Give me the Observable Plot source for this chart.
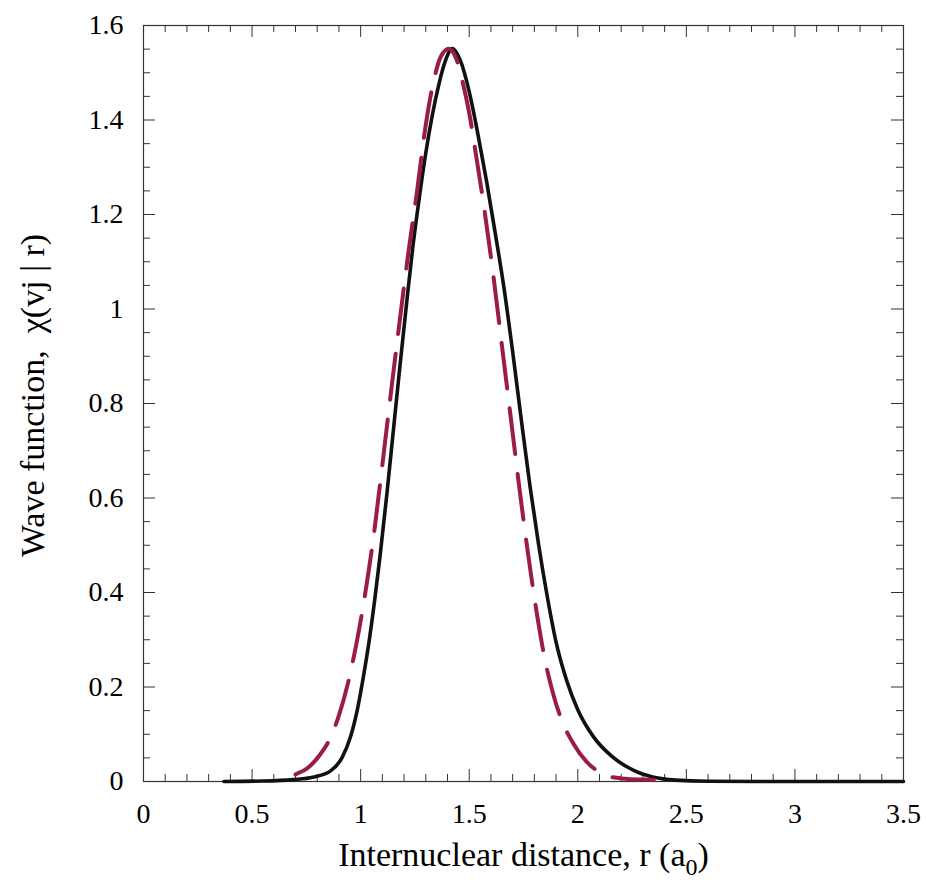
<!DOCTYPE html>
<html><head><meta charset="utf-8">
<script src="https://cdn.jsdelivr.net/npm/d3@7"></script>
<script src="https://cdn.jsdelivr.net/npm/@observablehq/plot@0.6"></script>
<style>body{margin:0;background:#fff;}</style>
</head><body><div id="chart"></div>
<script>
const solidR = [0.37, 0.55, 0.69, 0.78, 0.86, 0.915, 0.953, 0.987, 1.015, 1.04, 1.065, 1.09, 1.12, 1.15, 1.18, 1.21, 1.24, 1.27, 1.30, 1.33, 1.36, 1.39, 1.422, 1.46, 1.50, 1.54, 1.58, 1.62, 1.66, 1.70, 1.74, 1.78, 1.82, 1.86, 1.90, 1.95, 2.00, 2.07, 2.16, 2.26, 2.35, 2.45, 2.6, 3.0, 3.5];
const solidChi = [0, 0.001, 0.004, 0.009, 0.022, 0.051, 0.094, 0.157, 0.228, 0.30, 0.385, 0.48, 0.605, 0.74, 0.875, 1.005, 1.13, 1.235, 1.33, 1.41, 1.475, 1.525, 1.551, 1.525, 1.46, 1.37, 1.27, 1.16, 1.045, 0.91, 0.765, 0.625, 0.50, 0.39, 0.295, 0.212, 0.152, 0.096, 0.052, 0.023, 0.009, 0.003, 0.0005, 0, 0];
const dashedR = [0.70, 0.76, 0.81, 0.86, 0.90, 0.94, 0.98, 1.02, 1.06, 1.10, 1.14, 1.18, 1.22, 1.26, 1.30, 1.34, 1.37, 1.406, 1.44, 1.47, 1.50, 1.53, 1.57, 1.61, 1.65, 1.69, 1.73, 1.77, 1.81, 1.85, 1.89, 1.93, 1.98, 2.04, 2.10, 2.15, 2.22, 2.30, 2.35];
const dashedChi = [0.015, 0.03, 0.055, 0.092, 0.14, 0.205, 0.29, 0.395, 0.52, 0.67, 0.825, 0.975, 1.12, 1.25, 1.39, 1.49, 1.535, 1.551, 1.53, 1.48, 1.415, 1.33, 1.21, 1.075, 0.925, 0.775, 0.625, 0.485, 0.36, 0.255, 0.18, 0.125, 0.08, 0.042, 0.02, 0.01, 0.006, 0.004, 0.003];
const xTicks = [0, 0.5, 1, 1.5, 2, 2.5, 3, 3.5];
const xMinor = [0.1, 0.2, 0.3, 0.4, 0.6, 0.7, 0.8, 0.9, 1.1, 1.2, 1.3, 1.4, 1.6, 1.7, 1.8, 1.9, 2.1, 2.2, 2.3, 2.4, 2.6, 2.7, 2.8, 2.9, 3.1, 3.2, 3.3, 3.4];
const yTicks = [0, 0.2, 0.4, 0.6, 0.8, 1, 1.2, 1.4, 1.6];
const yMinor = [0.05, 0.1, 0.15, 0.25, 0.3, 0.35, 0.45, 0.5, 0.55, 0.65, 0.7, 0.75, 0.85, 0.9, 0.95, 1.05, 1.1, 1.15, 1.25, 1.3, 1.35, 1.45, 1.5, 1.55];
const xTitle = "Internuclear distance, r (a0)";
const yTitle = "Wave function,  \u03c7(vj | r)";

const W = 926, H = 890, mL = 143, mR = 23, mT = 25, mB = 109;
const pw = W - mL - mR, ph = H - mT - mB;
const solid = solidR.map((r, i) => ({r, chi: solidChi[i]}));
const dashed = dashedR.map((r, i) => ({r, chi: dashedChi[i]}));
const axisColor = "#333";
const fmt = d => String(d);

const chart = Plot.plot({
  width: W, height: H,
  marginLeft: mL, marginRight: mR, marginTop: mT, marginBottom: mB,
  style: {fontFamily: "'Liberation Serif', 'Times New Roman', serif", fontSize: "28px", color: "#000", background: "#fff"},
  x: {domain: [0, 3.5]},
  y: {domain: [0, 1.6]},
  marks: [
    Plot.frame({stroke: axisColor, strokeWidth: 1.2}),
    Plot.tickX(xTicks, {x: d => d, insetTop: ph - 12, stroke: axisColor}),
    Plot.tickX(xTicks, {x: d => d, insetBottom: ph - 12, stroke: axisColor}),
    Plot.tickX(xMinor, {x: d => d, insetTop: ph - 7, stroke: axisColor}),
    Plot.tickX(xMinor, {x: d => d, insetBottom: ph - 7, stroke: axisColor}),
    Plot.tickY(yTicks, {y: d => d, insetRight: pw - 12, stroke: axisColor}),
    Plot.tickY(yTicks, {y: d => d, insetLeft: pw - 12, stroke: axisColor}),
    Plot.tickY(yMinor, {y: d => d, insetRight: pw - 7, stroke: axisColor}),
    Plot.tickY(yMinor, {y: d => d, insetLeft: pw - 7, stroke: axisColor}),
    Plot.axisX({ticks: xTicks, tickFormat: fmt, tickSize: 0, tickPadding: 22, label: null, fontSize: 28}),
    Plot.axisY({ticks: yTicks, tickFormat: fmt, tickSize: 0, tickPadding: 20, label: null, fontSize: 28}),
    Plot.line(solid, {x: "r", y: "chi", stroke: "#111", strokeWidth: 3.6, curve: "monotone-x"}),
    Plot.line(dashed, {x: "r", y: "chi", stroke: "#9a1d46", strokeWidth: 4, strokeDasharray: "46,20", curve: "monotone-x"}),
    Plot.text([xTitle], {text: d => d, frameAnchor: "bottom", textAnchor: "middle", dy: 74, fontSize: 34, lineAnchor: "middle", fill: "#000"}),
    Plot.text([yTitle], {text: d => d, frameAnchor: "left", textAnchor: "middle", rotate: -90, dx: -110, dy: -8, fontSize: 34, lineAnchor: "middle", fill: "#000"})
  ]
});

// subscript 0 in a0
const svgNS = "http://www.w3.org/2000/svg";
chart.querySelectorAll("text").forEach(t => {
  if (t.textContent === xTitle) {
    t.textContent = "Internuclear distance, r (a";
    const s = document.createElementNS(svgNS, "tspan");
    s.setAttribute("dy", "9");
    s.setAttribute("font-size", "24");
    s.textContent = "0";
    const c = document.createElementNS(svgNS, "tspan");
    c.setAttribute("dy", "-9");
    c.textContent = ")";
    t.appendChild(s);
    t.appendChild(c);
  }
});
document.getElementById("chart").appendChild(chart);
</script>
</body></html>
